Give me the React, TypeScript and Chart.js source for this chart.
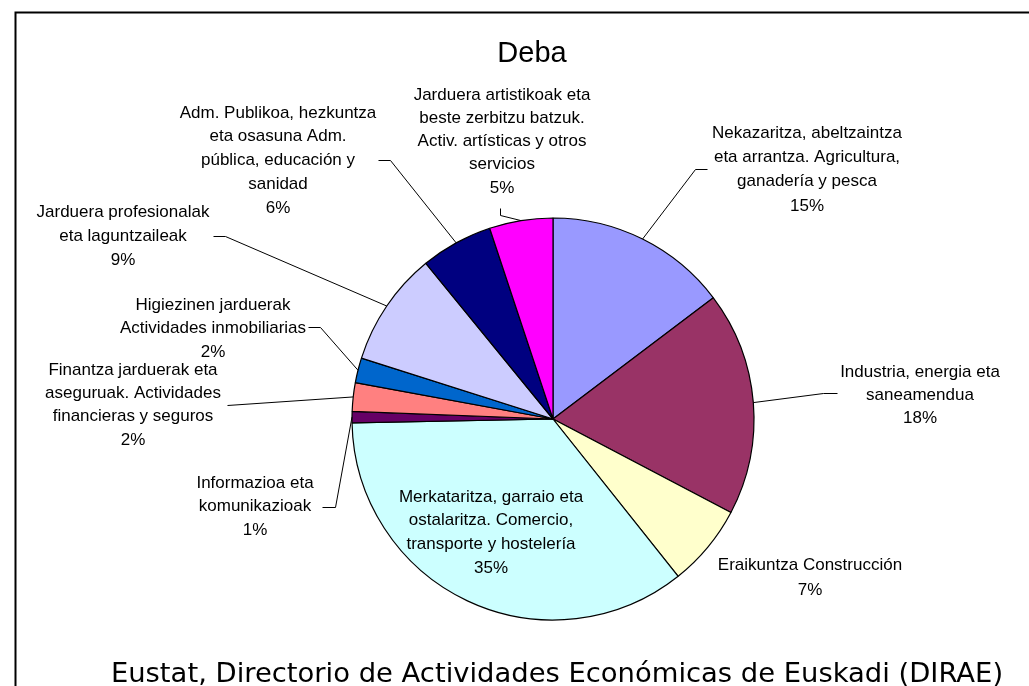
import React, { useEffect, useRef } from "react";
import { Chart, registerables } from "chart.js";

Chart.register(...registerables);

const chartTitle = "Deba";
const sourceText = "Eustat, Directorio de Actividades Económicas de Euskadi (DIRAE)";

const categories = [
  "Nekazaritza, abeltzaintza eta arrantza. Agricultura, ganadería y pesca",
  "Industria, energia eta saneamendua",
  "Eraikuntza Construcción",
  "Merkataritza, garraio eta ostalaritza. Comercio, transporte y hostelería",
  "Informazioa eta komunikazioak",
  "Finantza jarduerak eta aseguruak. Actividades financieras y seguros",
  "Higiezinen jarduerak Actividades inmobiliarias",
  "Jarduera profesionalak eta laguntzaileak",
  "Adm. Publikoa, hezkuntza eta osasuna Adm. pública, educación y sanidad",
  "Jarduera artistikoak eta beste zerbitzu batzuk. Activ. artísticas y otros servicios",
];

const labelLines = [
  ["Nekazaritza, abeltzaintza", "eta arrantza. Agricultura,", "ganadería y pesca"],
  ["Industria, energia eta", "saneamendua"],
  ["Eraikuntza Construcción"],
  ["Merkataritza, garraio eta", "ostalaritza. Comercio,", "transporte y hostelería"],
  ["Informazioa eta", "komunikazioak"],
  ["Finantza jarduerak eta", "aseguruak. Actividades", "financieras y seguros"],
  ["Higiezinen jarduerak", "Actividades inmobiliarias"],
  ["Jarduera profesionalak", "eta laguntzaileak"],
  ["Adm. Publikoa, hezkuntza", "eta osasuna Adm.", "pública, educación y", "sanidad"],
  ["Jarduera artistikoak eta", "beste zerbitzu batzuk.", "Activ. artísticas y otros", "servicios"],
];

const shares = [14.7, 18.0, 6.6, 35.4, 0.9, 2.3, 2.0, 9.2, 5.8, 5.1];

const sliceColors = [
  "#9999FF",
  "#993366",
  "#FFFFCC",
  "#CCFFFF",
  "#660066",
  "#FF8080",
  "#0066CC",
  "#CCCCFF",
  "#000080",
  "#FF00FF",
];

// label placement (text centre x, first line middle y, line height, leader elbow points from arc outward)
const labelLayout: { cx: number; y: number; lh: number; leader: number[][] | null }[] = [
  { cx: 807, y: 133, lh: 24.3, leader: [[695, 169], [707, 169]] },
  { cx: 920, y: 372, lh: 23, leader: [[823, 393], [837, 393]] },
  { cx: 810, y: 565, lh: 25, leader: null },
  { cx: 491, y: 497, lh: 23.7, leader: null },
  { cx: 255, y: 483, lh: 23.5, leader: [[335, 507], [322, 507]] },
  { cx: 133, y: 370, lh: 23.3, leader: [[227, 405]] },
  { cx: 213, y: 305, lh: 23.5, leader: [[320, 327], [308, 327]] },
  { cx: 123, y: 212, lh: 24, leader: [[225, 236], [213, 236]] },
  { cx: 278, y: 113, lh: 23.75, leader: [[390, 160], [378, 160]] },
  { cx: 502, y: 95, lh: 23.25, leader: [[500, 215], [500, 208]] },
];

const LABEL_FONT = '17px "Liberation Sans", Arial, sans-serif';

const decorPlugin = {
  id: "decor",
  afterDraw(chart: any) {
    const ctx = chart.ctx as CanvasRenderingContext2D;
    const meta = chart.getDatasetMeta(0);
    ctx.save();
    // frame
    ctx.strokeStyle = "#000";
    ctx.lineWidth = 2;
    ctx.strokeRect(15.5, 12.5, 1100, 800);

    // title
    ctx.fillStyle = "#000";
    ctx.textAlign = "center";
    ctx.textBaseline = "alphabetic";
    ctx.font = '29px "Liberation Sans", Arial, sans-serif';
    ctx.fillText(chartTitle, 532, 62);

    // source
    ctx.font = '27.4px "DejaVu Sans", Verdana, sans-serif';
    ctx.fillText(sourceText, 557, 682);

    // leaders
    ctx.strokeStyle = "#000";
    ctx.lineWidth = 1;
    meta.data.forEach((arc: any, i: number) => {
      const lay = labelLayout[i];
      if (!lay.leader) return;
      const mid = (arc.startAngle + arc.endAngle) / 2;
      const px = arc.x + arc.outerRadius * Math.cos(mid);
      const py = arc.y + arc.outerRadius * Math.sin(mid);
      ctx.beginPath();
      ctx.moveTo(px, py);
      lay.leader.forEach((p) => ctx.lineTo(p[0] + 0.5, p[1] + 0.5));
      ctx.stroke();
    });

    // labels
    ctx.font = LABEL_FONT;
    ctx.textBaseline = "middle";
    ctx.fillStyle = "#000";
    shares.forEach((v, i) => {
      const lay = labelLayout[i];
      const lines = [...labelLines[i], Math.round(v) + "%"];
      lines.forEach((t, k) => {
        ctx.fillText(t, lay.cx, lay.y + k * lay.lh);
      });
    });
    ctx.restore();
  },
};

export default function App() {
  const ref = useRef<HTMLCanvasElement | null>(null);
  useEffect(() => {
    document.body.style.margin = "0";
    const canvas = ref.current;
    if (!canvas) return;
    const chart = new Chart(canvas, {
      type: "pie",
      data: {
        labels: categories,
        datasets: [
          {
            data: shares,
            backgroundColor: sliceColors,
            borderColor: "#000000",
            borderWidth: 1.2,
          },
        ],
      },
      options: {
        responsive: false,
        animation: false,
        events: [],
        radius: 201,
        layout: {
          padding: { left: 303, right: 226, top: 169, bottom: 17 },
        },
        plugins: {
          legend: { display: false },
          title: { display: false },
          tooltip: { enabled: false },
        },
      } as any,
      plugins: [decorPlugin],
    });
    return () => chart.destroy();
  }, []);
  return (
    <div style={{ width: 1029, height: 686, background: "#fff" }}>
      <canvas ref={ref} width={1029} height={686} style={{ display: "block" }} />
    </div>
  );
}
